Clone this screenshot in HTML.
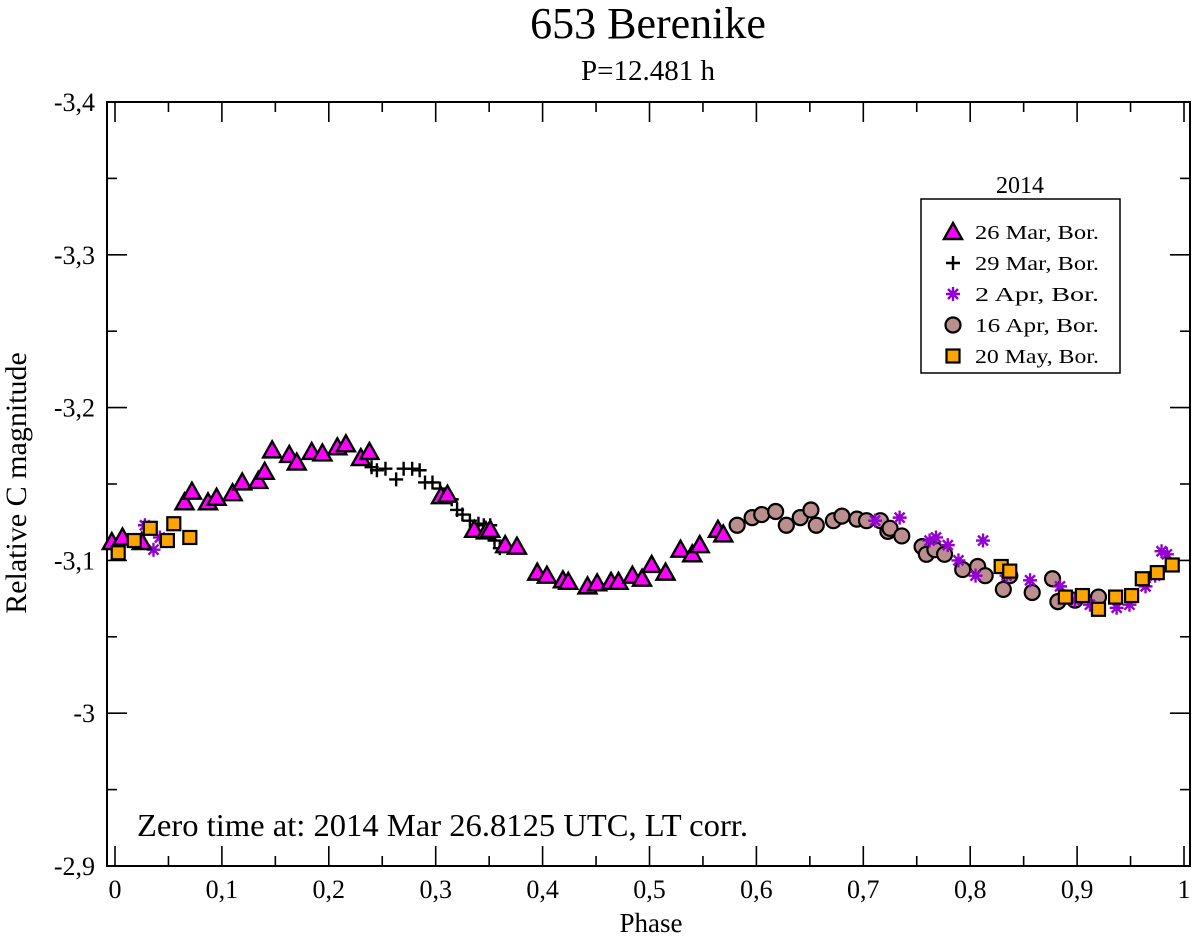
<!DOCTYPE html>
<html><head><meta charset="utf-8"><style>
body{margin:0;background:#fff}
text{font-family:"Liberation Serif",serif;fill:#000}
</style></head><body>
<svg id="chart" width="1200" height="939" viewBox="0 0 1200 939" xmlns="http://www.w3.org/2000/svg">
<text x="648" y="38" font-size="44" text-anchor="middle">653 Berenike</text>
<text x="648" y="80" font-size="29" text-anchor="middle">P=12.481 h</text>
<rect x="107" y="102" width="1083" height="764" fill="none" stroke="#000" stroke-width="2"/>
<g id="axes"></g>
<g id="marks"></g>
<text x="651" y="932" font-size="27" text-anchor="middle">Phase</text>
<text transform="translate(26,483) rotate(-90)" font-size="30" text-anchor="middle">Relative C magnitude</text>
<text x="137" y="836" font-size="32" textLength="611" lengthAdjust="spacingAndGlyphs">Zero time at: 2014 Mar 26.8125 UTC, LT corr.</text>
<text x="1020" y="193" font-size="24" text-anchor="middle">2014</text>
<rect x="921" y="199" width="199" height="174" fill="#fff" stroke="#000" stroke-width="1.5"/>
<g id="legend"></g>
</svg>
<script>
const xTicks=[0,0.1,0.2,0.3,0.4,0.5,0.6,0.7,0.8,0.9,1];
const xTickLabels=["0","0,1","0,2","0,3","0,4","0,5","0,6","0,7","0,8","0,9","1"];
const yTicks=[-3.4,-3.3,-3.2,-3.1,-3.0,-2.9];
const yTickLabels=["-3,4","-3,3","-3,2","-3,1","-3","-2,9"];
const triPhase=[-0.003,0.007,0.025,0.065,0.072,0.087,0.095,0.110,0.119,0.134,0.140,0.147,0.163,0.170,0.184,0.194,0.208,0.216,0.230,0.238,0.305,0.311,0.336,0.347,0.351,0.365,0.376,0.395,0.404,0.419,0.424,0.442,0.451,0.464,0.471,0.484,0.493,0.502,0.515,0.529,0.540,0.547,0.564,0.569];
const triMag=[-3.112,-3.115,-3.112,-3.138,-3.145,-3.138,-3.141,-3.144,-3.151,-3.152,-3.158,-3.172,-3.169,-3.164,-3.171,-3.170,-3.174,-3.176,-3.167,-3.171,-3.142,-3.143,-3.120,-3.119,-3.120,-3.110,-3.109,-3.092,-3.090,-3.087,-3.086,-3.083,-3.085,-3.086,-3.086,-3.090,-3.088,-3.097,-3.092,-3.107,-3.104,-3.110,-3.120,-3.117];
const plusPhase=[0.240,0.245,0.253,0.263,0.270,0.278,0.285,0.290,0.297,0.304,0.315,0.320,0.325,0.332,0.340,0.345,0.351,0.355,0.360];
const plusMag=[-3.161,-3.159,-3.160,-3.153,-3.160,-3.160,-3.159,-3.151,-3.151,-3.147,-3.140,-3.133,-3.130,-3.126,-3.124,-3.123,-3.123,-3.113,-3.108];
const starPhase=[0.028,0.036,0.042,0.711,0.734,0.762,0.768,0.779,0.789,0.805,0.812,0.834,0.856,0.884,0.898,0.912,0.937,0.949,0.964,0.973,0.979,0.984];
const starMag=[-3.123,-3.107,-3.115,-3.126,-3.128,-3.113,-3.115,-3.110,-3.100,-3.090,-3.113,-3.090,-3.087,-3.083,-3.074,-3.071,-3.069,-3.071,-3.083,-3.090,-3.106,-3.104];
const circPhase=[0.582,0.596,0.605,0.618,0.628,0.641,0.651,0.656,0.672,0.680,0.694,0.703,0.716,0.723,0.725,0.736,0.755,0.759,0.767,0.776,0.793,0.807,0.814,0.831,0.837,0.858,0.877,0.882,0.898,0.920];
const circMag=[-3.123,-3.128,-3.130,-3.132,-3.123,-3.128,-3.133,-3.123,-3.126,-3.129,-3.127,-3.126,-3.126,-3.119,-3.121,-3.116,-3.109,-3.104,-3.107,-3.104,-3.094,-3.096,-3.090,-3.081,-3.090,-3.079,-3.088,-3.073,-3.074,-3.076];
const sqPhase=[0.003,0.018,0.033,0.049,0.055,0.070,0.829,0.837,0.889,0.905,0.920,0.936,0.951,0.961,0.975,0.989];
const sqMag=[-3.105,-3.113,-3.121,-3.113,-3.124,-3.115,-3.096,-3.093,-3.076,-3.077,-3.068,-3.076,-3.077,-3.088,-3.092,-3.097];
const legendLabels=["26 Mar, Bor.","29 Mar, Bor.","2 Apr, Bor.","16 Apr, Bor.","20 May, Bor."];

const NS="http://www.w3.org/2000/svg";
const X=v=>115+v*1069;
const Y=v=>102+(v+3.4)*1528;
function mk(tag,attrs,parent){const e=document.createElementNS(NS,tag);for(const k in attrs)e.setAttribute(k,attrs[k]);parent.appendChild(e);return e;}
const axes=document.getElementById('axes');
for(let i=0;i<=20;i++){const v=i*0.05,x=X(v),L=i%2?10:20;
 const t1=mk('line',{x1:x,y1:866,x2:x,y2:866-L,stroke:'#000','stroke-width':1.6},axes);
 
 const t2=mk('line',{x1:x,y1:102,x2:x,y2:102+L,stroke:'#000','stroke-width':1.6},axes);
 }
xTicks.forEach((v,i)=>{const t=mk('text',{x:X(v),y:898,'font-size':26,'text-anchor':'middle'},axes);t.textContent=xTickLabels[i];
 });
for(let i=0;i<=10;i++){const v=-3.4+i*0.05,y=Y(v),L=i%2?10:20;
 const t1=mk('line',{x1:107,y1:y,x2:107+L,y2:y,stroke:'#000','stroke-width':1.6},axes);
 
 const t2=mk('line',{x1:1190,y1:y,x2:1190-L,y2:y,stroke:'#000','stroke-width':1.6},axes);
 }
yTicks.forEach((v,i)=>{const t=mk('text',{x:95,y:Y(v)+9,'font-size':26,'text-anchor':'end'},axes);t.textContent=yTickLabels[i];
 });

function tri(x,y,p){return mk('polygon',{points:`${x},${y-9} ${x-9},${y+7} ${x+9},${y+7}`,fill:'#f0f',stroke:'#000','stroke-width':2.4},p);}
function plus(x,y,p){return mk('path',{d:`M${x-7},${y}H${x+7}M${x},${y-7}V${y+7}`,stroke:'#000','stroke-width':2.4},p);}
function star(x,y,p){return mk('path',{d:`M${x-7},${y}H${x+7}M${x},${y-7}V${y+7}M${x-5},${y-5}L${x+5},${y+5}M${x-5},${y+5}L${x+5},${y-5}`,stroke:'#9400d3','stroke-width':2.4},p);}
function circ(x,y,p){return mk('circle',{cx:x,cy:y,r:7.5,fill:'#bc8f8f',stroke:'#000','stroke-width':2.2},p);}
function sq(x,y,p){return mk('rect',{x:x-6.5,y:y-6.5,width:13,height:13,fill:'#ffa500',stroke:'#000','stroke-width':2.2},p);}
const marks=document.getElementById('marks');
circPhase.forEach((v,i)=>{const e=circ(X(v),Y(circMag[i]),marks);
 });
starPhase.forEach((v,i)=>{const e=star(X(v),Y(starMag[i]),marks);
 });
plusPhase.forEach((v,i)=>{const e=plus(X(v),Y(plusMag[i]),marks);
 });
triPhase.forEach((v,i)=>{const e=tri(X(v),Y(triMag[i]),marks);
 });
sqPhase.forEach((v,i)=>{const e=sq(X(v),Y(sqMag[i]),marks);
 });
const leg=document.getElementById('legend');
const fns=[tri,plus,star,circ,sq];
legendLabels.forEach((s,i)=>{const y=232+i*31;
 const g=mk('g',{},leg);
 
 fns[i](953,y,g);
 const t=mk('text',{x:975,y:y+7,'font-size':20,textLength:124,lengthAdjust:'spacingAndGlyphs'},g);t.textContent=s;});
</script>
</body></html>
